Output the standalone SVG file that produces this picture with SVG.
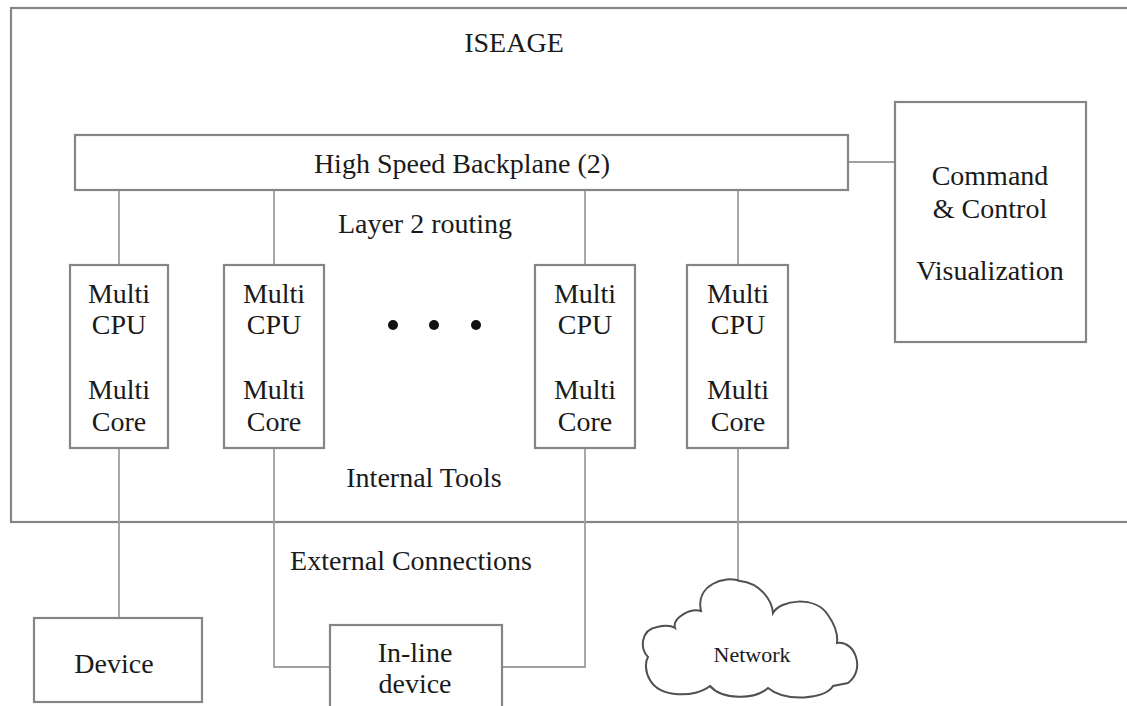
<svg xmlns="http://www.w3.org/2000/svg" width="1127" height="706" viewBox="0 0 1127 706" font-family="'Liberation Serif', 'DejaVu Serif', serif">
<style>
.box{fill:#fff;stroke:#858585;stroke-width:2.2}
.con{fill:none;stroke:#a0a0a0;stroke-width:1.8}
.t{font-family:'Liberation Serif','DejaVu Serif',serif;font-size:28px;fill:#1a1a1a;text-anchor:middle}
.dot{fill:#111}
</style>
<rect width="1127" height="706" fill="#fff"/>
<g id="iseage">
<rect class="box" x="11" y="8" width="1130" height="514"/>
<text class="t" x="514" y="52">ISEAGE</text>
<text class="t" x="425" y="233">Layer 2 routing</text>
<text class="t" x="424" y="487">Internal Tools</text>
<circle class="dot" cx="393" cy="325" r="5"/>
<circle class="dot" cx="434" cy="325" r="5"/>
<circle class="dot" cx="476" cy="325" r="5"/>
</g>
<g id="connectors">
<path class="con" d="M119 190V265M274 190V265M585 190V265M738 190V265M848 162H895"/>
<path class="con" d="M119 448V618"/>
<path class="con" d="M274 448V667H330"/>
<path class="con" d="M502 667H585V448"/>
<path class="con" d="M738 448V581"/>
</g>
<g id="backplane">
<rect class="box" x="75" y="135" width="773" height="55"/>
<text class="t" x="462" y="173">High Speed Backplane (2)</text>
</g>
<g id="command">
<rect class="box" x="895" y="102" width="191" height="240"/>
<text class="t" x="990" y="185">Command</text>
<text class="t" x="990" y="218">&amp; Control</text>
<text class="t" x="990" y="280">Visualization</text>
</g>
<g id="node1">
<rect class="box" x="70" y="265" width="98" height="183"/>
<text class="t" x="119" y="303">Multi</text><text class="t" x="119" y="334">CPU</text>
<text class="t" x="119" y="399">Multi</text><text class="t" x="119" y="431">Core</text>
</g>
<g id="node2">
<rect class="box" x="224" y="265" width="100" height="183"/>
<text class="t" x="274" y="303">Multi</text><text class="t" x="274" y="334">CPU</text>
<text class="t" x="274" y="399">Multi</text><text class="t" x="274" y="431">Core</text>
</g>
<g id="node3">
<rect class="box" x="535" y="265" width="100" height="183"/>
<text class="t" x="585" y="303">Multi</text><text class="t" x="585" y="334">CPU</text>
<text class="t" x="585" y="399">Multi</text><text class="t" x="585" y="431">Core</text>
</g>
<g id="node4">
<rect class="box" x="687" y="265" width="101" height="183"/>
<text class="t" x="738" y="303">Multi</text><text class="t" x="738" y="334">CPU</text>
<text class="t" x="738" y="399">Multi</text><text class="t" x="738" y="431">Core</text>
</g>
<g id="external-label">
<text class="t" x="411" y="570">External Connections</text>
</g>
<g id="device">
<rect class="box" x="34" y="618" width="168" height="84"/>
<text class="t" x="114" y="673">Device</text>
</g>
<g id="inline-device">
<rect class="box" x="330" y="625" width="172" height="90"/>
<text class="t" x="415" y="662">In-line</text>
<text class="t" x="415" y="693">device</text>
</g>
<g id="network">
<path fill="#fff" stroke="#505050" stroke-width="2" d="M701 611C695 585 725 575 740 581C760 583 772 600 773 613C780 600 815 595 828 615C835 625 838 635 837 643C855 640 866 670 848 683L833 686C825 700 785 702 768 688C755 700 722 700 710 686C695 698 660 698 650 680C645 672 645 662 648 657C640 650 640 630 657 627C665 625 672 626 675 628C672 618 690 608 701 611Z"/>
<text class="t" x="752" y="662" style="font-size:22px">Network</text>
</g>
</svg>
